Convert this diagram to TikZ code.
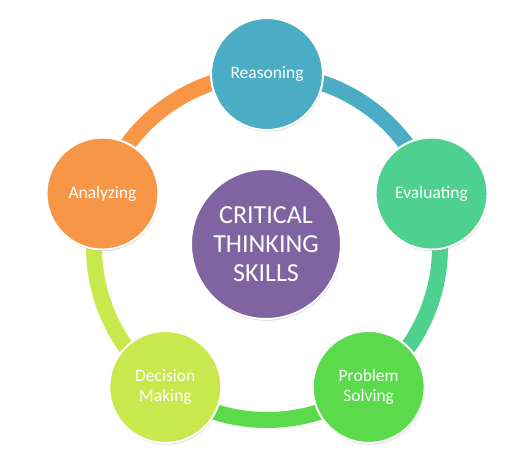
\documentclass[tikz,border=0pt]{standalone}
\usepackage{fontspec}
\setmainfont{Carlito}
\usetikzlibrary{shadows,calc}
\definecolor{creas}{HTML}{4BACC6}
\definecolor{ceval}{HTML}{4ED18F}
\definecolor{cprob}{HTML}{5BDB4C}
\definecolor{cdeci}{HTML}{C9E84E}
\definecolor{canal}{HTML}{F79646}
\definecolor{ccrit}{HTML}{8064A2}
\tikzset{
  skill/.style={circle, draw=white, line width=2pt, minimum size=112pt, inner sep=0pt,
    text=white, align=center, font=\fontsize{17.5}{20}\selectfont,
    drop shadow={opacity=0.3, shadow xshift=0.6pt, shadow yshift=-1.6pt, fill=black!60}},
  core/.style={circle, draw=white, line width=2pt, minimum size=150pt, inner sep=0pt,
    fill=ccrit, text=white, align=center, font=\fontsize{26}{29}\selectfont,
    drop shadow={opacity=0.3, shadow xshift=0.6pt, shadow yshift=-1.6pt, fill=black!60}},
  seg/.style={line width=16pt}
}
\begin{document}
\begin{tikzpicture}[x=1pt,y=-1pt]
\useasboundingbox (0,0) rectangle (523,450);
\coordinate (c) at (267,247);
\def\R{173}
\coordinate (pr) at ($(c)+(-90:\R)$);
\coordinate (pe) at ($(c)+(-18:\R)$);
\coordinate (pp) at ($(c)+(54:\R)$);
\coordinate (pd) at ($(c)+(126:\R)$);
\coordinate (pa) at ($(c)+(198:\R)$);
% ring segments
\draw[seg, creas] (pr) arc[start angle=-90, end angle=-18, radius=\R];
\draw[seg, ceval] (pe) arc[start angle=-18, end angle=54, radius=\R];
\draw[seg, cprob] (pp) arc[start angle=54, end angle=126, radius=\R];
\draw[seg, cdeci] (pd) arc[start angle=126, end angle=198, radius=\R];
\draw[seg, canal] (pa) arc[start angle=198, end angle=270, radius=\R];
% nodes
\node[skill, fill=creas] (reas) at (pr) {Reasoning};
\node[skill, fill=ceval] (eval) at (pe) {Evaluating};
\node[skill, fill=cprob] (prob) at (pp) {Problem\\Solving};
\node[skill, fill=cdeci] (deci) at (pd) {Decision\\Making};
\node[skill, fill=canal] (anal) at (pa) {Analyzing};
\node[core] (crit) at (266,244) {CRITICAL\\THINKING\\SKILLS};
\end{tikzpicture}
\end{document}
